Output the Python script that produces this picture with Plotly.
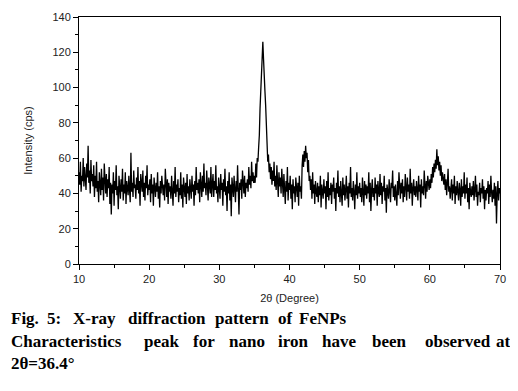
import numpy as np
import plotly.graph_objects as go

# 2-theta sampling grid (degrees), 0.1 degree step from 10 to 70
two_theta = np.round(np.arange(100, 701) / 10.0, 1)

intensity = [
    52, 45, 58, 41, 50, 47, 60, 44, 55, 48,   # 10
    42, 57, 49, 67, 46, 53, 40, 59, 47, 51,   # 11
    44, 56, 38, 50, 43, 58, 41, 47, 35, 52,   # 12
    46, 39, 54, 42, 49, 36, 57, 44, 40, 51,   # 13
    38, 48, 43, 55, 34, 46, 28, 45, 40, 52,   # 14
    33, 47, 42, 56, 39, 44, 31, 50, 43, 37,   # 15
    48, 41, 54, 36, 45, 40, 52, 34, 47, 42,   # 16
    39, 50, 44, 35, 63, 41, 46, 38, 53, 43,   # 17
    45, 37, 49, 42, 55, 40, 47, 33, 51, 44,   # 18
    41, 53, 38, 46, 36, 50, 43, 56, 39, 45,   # 19
    42, 48, 35, 51, 40, 45, 33, 49, 43, 38,   # 20
    46, 41, 52, 37, 44, 32, 47, 40, 50, 43,   # 21
    39, 45, 36, 54, 42, 38, 48, 34, 46, 41,   # 22
    44, 37, 50, 43, 33, 47, 40, 55, 38, 45,   # 23
    41, 48, 35, 43, 39, 52, 37, 45, 32, 49,   # 24
    43, 38, 46, 34, 51, 40, 44, 36, 48, 42,   # 25
    37, 50, 41, 45, 33, 47, 39, 55, 42, 46,   # 26
    40, 48, 35, 52, 44, 38, 50, 41, 57, 43,   # 27
    46, 39, 53, 42, 36, 49, 44, 40, 55, 38,   # 28
    45, 51, 38, 47, 42, 56, 40, 44, 35, 49,   # 29
    43, 37, 51, 42, 46, 33, 48, 41, 54, 39,   # 30
    44, 30, 47, 40, 52, 36, 45, 27, 49, 42,   # 31
    38, 50, 43, 35, 47, 41, 56, 39, 28, 46,   # 32
    42, 48, 37, 53, 44, 40, 50, 38, 46, 43,   # 33
    48, 41, 55, 45, 50, 43, 58, 47, 52, 46,   # 34
    50, 46, 57, 49, 60, 58, 66, 73, 88, 99,   # 35
    113, 119, 126, 116, 110, 98, 90, 74, 66, 58,  # 36
    62, 52, 57, 48, 55, 45, 53, 47, 58, 44,   # 37
    50, 42, 56, 46, 38, 52, 44, 49, 40, 54,   # 38
    45, 38, 51, 43, 34, 47, 41, 55, 36, 46,   # 39
    42, 50, 37, 45, 31, 48, 40, 44, 35, 49,   # 40
    43, 38, 46, 33, 50, 41, 44, 37, 56, 62,   # 41
    55, 64, 58, 67, 60, 63, 52, 59, 47, 50,   # 42
    42, 48, 37, 52, 40, 45, 34, 47, 41, 38,   # 43
    46, 35, 44, 39, 50, 32, 45, 41, 37, 48,   # 44
    40, 44, 31, 47, 38, 52, 36, 43, 39, 46,   # 45
    34, 45, 41, 49, 37, 43, 30, 46, 40, 53,   # 46
    38, 44, 35, 47, 41, 33, 49, 39, 45, 36,   # 47
    42, 50, 37, 44, 32, 46, 40, 55, 38, 43,   # 48
    36, 47, 41, 31, 45, 39, 52, 37, 44, 40,   # 49
    46, 38, 43, 35, 49, 41, 33, 47, 39, 45,   # 50
    37, 44, 40, 52, 35, 46, 30, 42, 48, 38,   # 51
    43, 36, 49, 40, 45, 33, 47, 41, 38, 51,   # 52
    39, 46, 34, 44, 41, 50, 36, 43, 29, 45,   # 53
    42, 37, 48, 40, 35, 46, 43, 53, 38, 44,   # 54
    36, 45, 41, 33, 47, 39, 52, 42, 37, 46,   # 55
    40, 48, 35, 44, 38, 51, 42, 36, 49, 41,   # 56
    45, 37, 54, 40, 46, 33, 43, 48, 39, 44,   # 57
    38, 47, 42, 36, 50, 41, 45, 32, 48, 40,   # 58
    44, 39, 53, 43, 37, 47, 41, 50, 45, 42,   # 59
    48, 43, 51, 46, 55, 49, 57, 52, 59, 54,   # 60
    65, 56, 61, 53, 58, 50, 56, 47, 52, 49,   # 61
    45, 51, 42, 48, 39, 46, 54, 41, 44, 37,   # 62
    43, 48, 36, 45, 40, 50, 34, 44, 39, 47,   # 63
    41, 36, 46, 42, 33, 48, 38, 44, 40, 52,   # 64
    37, 45, 40, 49, 35, 43, 31, 46, 41, 38,   # 65
    44, 39, 47, 36, 42, 50, 38, 45, 33, 41,   # 66
    39, 46, 35, 43, 40, 48, 37, 44, 31, 42,   # 67
    36, 43, 40, 47, 34, 45, 38, 50, 41, 35,   # 68
    42, 37, 46, 33, 44, 23, 40, 47, 36, 43,   # 69
    40,                                       # 70
]

x_ticks = [10, 20, 30, 40, 50, 60, 70]
y_ticks = [0, 20, 40, 60, 80, 100, 120, 140]

fig = go.Figure()
fig.add_trace(go.Scatter(x=two_theta, y=intensity, mode="lines",
                         line=dict(color="black", width=1.3), showlegend=False))

# page body has an 8px margin, so the figure is drawn 8px in from the window edge;
# keep the page short enough that no scrollbar appears
OFF = 8
W, H = 518 - OFF, 391 - 2 * OFF
L, T = 79 - OFF, 17 - OFF
R = 518 - 500
B = H - (264 - OFF)
pw, ph = W - L - R, H - T - B

def px(x):
    return (x - OFF - L) / pw

def py(y):
    return (H - B - (y - OFF)) / ph

axis_font = dict(family="Liberation Sans, Arial", size=11, color="#222")

fig.update_layout(
    width=W, height=H,
    margin=dict(l=L, r=R, t=T, b=B, autoexpand=False),
    paper_bgcolor="white", plot_bgcolor="white",
    font=axis_font,
    xaxis=dict(range=[10, 70], tickvals=x_ticks, ticks="outside", ticklen=5,
               tickcolor="black", tickwidth=1, showline=True, linecolor="black",
               linewidth=1, mirror=True, showgrid=False, zeroline=False,
               minor=dict(dtick=5, ticks="outside", ticklen=3, tickcolor="black"),
               title=dict(text="2θ (Degree)", font=axis_font, standoff=10),
               tickfont=axis_font),
    yaxis=dict(range=[0, 140], tickvals=y_ticks, ticks="outside", ticklen=5,
               tickcolor="black", tickwidth=1, showline=True, linecolor="black",
               linewidth=1, mirror=True, showgrid=False, zeroline=False,
               minor=dict(dtick=10, ticks="outside", ticklen=3, tickcolor="black"),
               title=dict(text="Intensity (cps)", font=axis_font, standoff=17),
               tickfont=axis_font),
)

cap_font = dict(family="Liberation Serif, Times New Roman", size=17, color="black")

def caption_words(words, xs, anchors, y):
    for w, wx, a in zip(words, xs, anchors):
        fig.add_annotation(text="<b>" + w + "</b>", xref="paper", yref="paper",
                           x=px(wx), y=py(y), xanchor=a, yanchor="middle",
                           showarrow=False, font=cap_font, borderpad=0)

caption_words(["Fig.", "5:", "X-ray", "diffraction", "pattern", "of", "FeNPs"],
              [10, 53.5, 94, 166.5, 241.5, 285.5, 323],
              ["left"] + ["center"] * 6, 318)
caption_words(["Characteristics", "peak", "for", "nano", "iron", "have", "been",
               "observed", "at"],
              [10, 162, 203.5, 247, 293, 338.5, 389.5, 457.5, 512],
              ["left"] + ["center"] * 7 + ["right"], 341)
caption_words(["2θ=36.4°"], [10], ["left"], 363)

fig.write_html("out.html")
